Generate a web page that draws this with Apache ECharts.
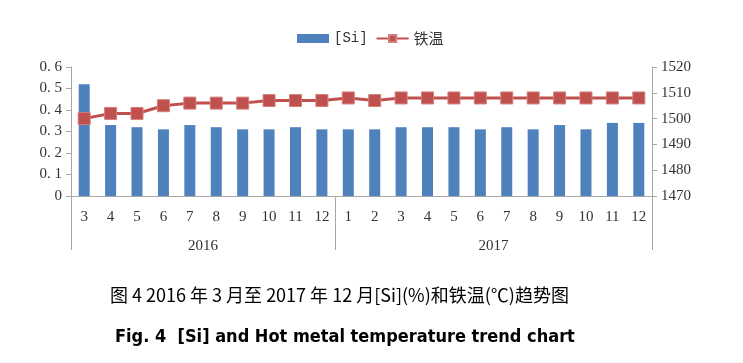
<!DOCTYPE html>
<html><head><meta charset="utf-8">
<script src="https://cdn.jsdelivr.net/npm/echarts@6/dist/echarts.min.js"></script>
<style>html,body{margin:0;padding:0;background:#fff}#c{width:743px;height:363px}</style>
</head><body><div id="c"></div>
<script>
var months = ['3','4','5','6','7','8','9','10','11','12','1','2','3','4','5','6','7','8','9','10','11','12'];
var years = ['2016','2017'];
var yearCenters = [5, 16];
var yearBounds = [0, 10, 22];
var siValues = [0.52,0.33,0.32,0.31,0.33,0.32,0.31,0.31,0.32,0.31,0.31,0.31,0.32,0.32,0.32,0.31,0.32,0.31,0.33,0.31,0.34,0.34];
var tempValues = [1500,1502,1502,1505,1506,1506,1506,1507,1507,1507,1508,1507,1508,1508,1508,1508,1508,1508,1508,1508,1508,1508];
var leftTicks = ['0','0. 1','0. 2','0. 3','0. 4','0. 5','0. 6'];

var gray = '#A6A6A6';
var chart = echarts.init(document.getElementById('c'));
chart.setOption({
  animation: false,
  legend: {
    top: 26, left: 292, itemWidth: 32, itemHeight: 9, itemGap: 8,
    textStyle: {fontFamily: 'Liberation Mono, DejaVu Sans Mono, monospace', fontSize: 14, color: '#333'},
    data: [{name: '[Si]', icon: 'rect'}, {name: '铁温', textStyle: {fontFamily: 'Noto Sans CJK SC', fontSize: 15}}]
  },
  grid: {left: 71, right: 91, top: 67, height: 129},
  xAxis: [{
    type: 'category', data: months, position: 'bottom',
    axisLine: {lineStyle: {color: gray}},
    axisTick: {interval: 0, length: 30, lineStyle: {color: gray}},
    axisLabel: {interval: 0, margin: 14, fontFamily: 'Liberation Serif', fontSize: 15, color: '#333'}
  }, {
    type: 'value', min: 0, max: 22, position: 'bottom',
    axisLine: {show: false}, splitLine: {show: false},
    axisTick: {show: true, customValues: yearBounds, length: 54, lineStyle: {color: gray}},
    axisLabel: {customValues: yearCenters, margin: 43, fontFamily: 'Liberation Serif', fontSize: 15, color: '#333',
      formatter: function (v) { return years[yearCenters.indexOf(v)]; }}
  }],
  yAxis: [{
    type: 'value', min: 0, max: 0.6, interval: 0.1, position: 'left',
    axisLine: {show: true, lineStyle: {color: gray}},
    axisTick: {show: true, length: 5, lineStyle: {color: gray}},
    splitLine: {show: false},
    axisLabel: {margin: 9, fontFamily: 'Liberation Serif', fontSize: 15, color: '#333',
      formatter: function (v) { return leftTicks[Math.round(v * 10)]; }}
  }, {
    type: 'value', min: 1470, max: 1520, interval: 10, position: 'right',
    axisLine: {show: true, lineStyle: {color: gray}},
    axisTick: {show: true, length: 5, lineStyle: {color: gray}},
    splitLine: {show: false},
    axisLabel: {margin: 9, fontFamily: 'Liberation Serif', fontSize: 15, color: '#333',
      formatter: function (v) { return String(v); }}
  }],
  series: [{
    name: '[Si]', type: 'bar', data: siValues, xAxisIndex: 0, yAxisIndex: 0,
    barWidth: 11, itemStyle: {color: '#4F81BD'}
  }, {
    name: '铁温', type: 'line', data: tempValues, xAxisIndex: 0, yAxisIndex: 1,
    symbol: 'rect', symbolSize: 12,
    lineStyle: {color: '#C0504D', width: 3},
    itemStyle: {color: '#C0504D', borderColor: '#D27F7D', borderWidth: 1}
  }],
  graphic: [{
    type: 'text', left: 110, top: 286,
    style: {text: '图 4 2016 年 3 月至 2017 年 12 月[Si](%)和铁温(℃)趋势图', fontFamily: 'Noto Sans CJK SC', fontSize: 18, fill: '#000'}
  }, {
    type: 'text', left: 115, top: 328,
    style: {text: 'Fig. 4  [Si] and Hot metal temperature trend chart', fontFamily: 'DejaVu Sans Condensed, DejaVu Sans', fontWeight: 'bold', fontSize: 18, fill: '#000'}
  }]
});
</script></body></html>
